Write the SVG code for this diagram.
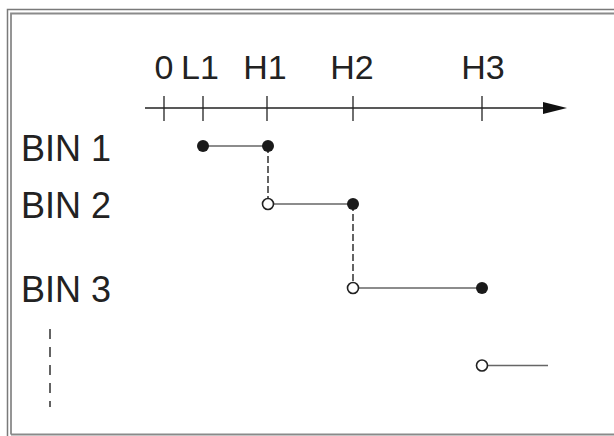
<svg xmlns="http://www.w3.org/2000/svg" width="614" height="436" viewBox="0 0 614 436">
<style>
.lbl{font-family:"Liberation Sans",Arial,sans-serif;fill:#222}
.ax{font-size:34px;text-anchor:middle}
.bin{font-size:36px}
.seg{stroke:#666;stroke-width:1.6;fill:none}
.dash{stroke:#222;stroke-width:1.4;stroke-dasharray:7 3;fill:none}
.full{fill:#1a1a1a}
.open{fill:#fff;stroke:#222;stroke-width:1.6}
.tick{stroke:#222;stroke-width:1.3}
</style>
<rect width="614" height="436" fill="#fff"/>
<g id="frame" fill="none">
<path d="M7.5 436 V9.5 H614" stroke="#7a7a7a" stroke-width="1.5"/>
<path d="M11 434.5 V13.5 H614 M11 434.5 H614" stroke="#8a8a8a" stroke-width="1.8"/>
</g>
<g id="axis">
<line x1="145" y1="108" x2="545" y2="108" stroke="#222" stroke-width="1.5"/>
<polygon points="543,102 567,108 543,114" fill="#111"/>
<line class="tick" x1="164" y1="96" x2="164" y2="121"/>
<line class="tick" x1="203" y1="96" x2="203" y2="121"/>
<line class="tick" x1="267" y1="96" x2="267" y2="121"/>
<line class="tick" x1="353" y1="96" x2="353" y2="121"/>
<line class="tick" x1="482" y1="96" x2="482" y2="121"/>
<text class="lbl ax" x="164" y="79">0</text>
<text class="lbl ax" x="200" y="79">L1</text>
<text class="lbl ax" x="265" y="79">H1</text>
<text class="lbl ax" x="352" y="79">H2</text>
<text class="lbl ax" x="483" y="79">H3</text>
</g>
<g id="bin1"><text class="lbl bin" x="21" y="161">BIN 1</text></g>
<g id="bin2"><text class="lbl bin" x="21" y="218">BIN 2</text></g>
<g id="bin3"><text class="lbl bin" x="21" y="302">BIN 3</text></g>
<g id="connectors">
<line class="dash" x1="268" y1="146" x2="268" y2="204"/>
<line class="dash" x1="353" y1="204" x2="353" y2="288"/>
<line class="dash" x1="50" y1="329" x2="50" y2="407" style="stroke-dasharray:10 8"/>
<line class="seg" x1="203" y1="146" x2="268" y2="146"/>
<line class="seg" x1="268" y1="204" x2="353" y2="204"/>
<line class="seg" x1="353" y1="288" x2="482" y2="288"/>
<line class="seg" x1="482" y1="365.5" x2="548" y2="365.5"/>
</g>
<g id="points">
<circle class="full" cx="203" cy="146" r="6"/>
<circle class="full" cx="268" cy="146" r="6"/>
<circle class="open" cx="268" cy="204" r="5.5"/>
<circle class="full" cx="353" cy="204" r="6"/>
<circle class="open" cx="353" cy="288" r="5.5"/>
<circle class="full" cx="482" cy="288" r="6"/>
<circle class="open" cx="482" cy="365.5" r="5.5"/>
</g>
</svg>
